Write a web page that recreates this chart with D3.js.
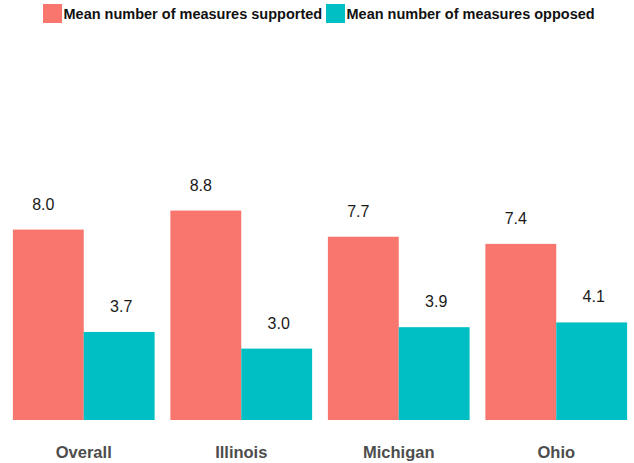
<!DOCTYPE html>
<html>
<head>
<meta charset="utf-8">
<script src="https://cdn.jsdelivr.net/npm/d3@7"></script>
<style>
  body { margin: 0; background: #fff; }
  text { font-family: "Liberation Sans", Arial, sans-serif; }
</style>
</head>
<body>
<div id="chart"></div>
<script>
//Chart data
var regions = ["Overall", "Illinois", "Michigan", "Ohio"];
var seriesNames = ["Mean number of measures supported", "Mean number of measures opposed"];
var supported = [8.0, 8.8, 7.7, 7.4];
var opposed = [3.7, 3.0, 3.9, 4.1];
var colors = ["#F8766D", "#00BFC4"];

//SVG size
var svgWidth = 634;
var svgHeight = 463;

var svg = d3.select("#chart")
  .append("svg")
  .attr("width", svgWidth)
  .attr("height", svgHeight);

//Scales
var xScale = d3.scaleBand()
  .domain(regions)
  .range([5, 635])
  .paddingInner(0.1)
  .paddingOuter(0.05);

var xSub = d3.scaleBand()
  .domain([0, 1])
  .range([0, xScale.bandwidth()]);

var yScale = d3.scaleLinear()
  .domain([0, 10])
  .range([420, 182]);

//Build rows for bars
var rows = [];
regions.forEach(function(r, i) {
  rows.push({region: r, s: 0, value: supported[i]});
  rows.push({region: r, s: 1, value: opposed[i]});
});

//Bars
svg.selectAll(".bar")
  .data(rows)
  .enter()
  .append("rect")
  .attr("class", "bar")
  .attr("x", d => xScale(d.region) + xSub(d.s))
  .attr("y", d => yScale(d.value))
  .attr("width", xSub.bandwidth())
  .attr("height", d => yScale(0) - yScale(d.value))
  .attr("fill", d => colors[d.s]);

//Value labels (slightly off-centre like the original)
svg.selectAll(".val")
  .data(rows)
  .enter()
  .append("text")
  .attr("class", "val")
  .attr("x", d => xScale(d.region) + xSub(d.s) + xSub.bandwidth() / 2 + (d.s === 0 ? -5 : 2))
  .attr("y", d => yScale(d.value) - 20)
  .attr("text-anchor", "middle")
  .attr("font-size", "16px")
  .attr("fill", "#1a1a1a")
  .text(d => d.value.toFixed(1));

//Category axis labels
var xAxis = d3.axisBottom(xScale).tickSize(0).tickPadding(0);
var axisG = svg.append("g")
  .attr("transform", "translate(0,446)")
  .call(xAxis);
axisG.select(".domain").remove();
axisG.selectAll("text")
  .attr("dy", "0.71em")
  .attr("font-family", "Liberation Sans, Arial, sans-serif")
  .attr("font-size", "16.5px")
  .attr("font-weight", "bold")
  .attr("fill", "#4d4d4d");

//Legend
var legendX = [43, 326];
var legend = svg.selectAll(".legend")
  .data(seriesNames)
  .enter()
  .append("g")
  .attr("class", "legend")
  .attr("transform", (d, i) => `translate(${legendX[i]}, 4)`);

legend.append("rect")
  .attr("width", 19)
  .attr("height", 19)
  .attr("fill", (d, i) => colors[i]);

legend.append("text")
  .attr("x", 20.5)
  .attr("y", 15.3)
  .attr("font-size", "14.5px")
  .attr("font-weight", "bold")
  .attr("fill", "#111")
  .text(d => d);
</script>
</body>
</html>
